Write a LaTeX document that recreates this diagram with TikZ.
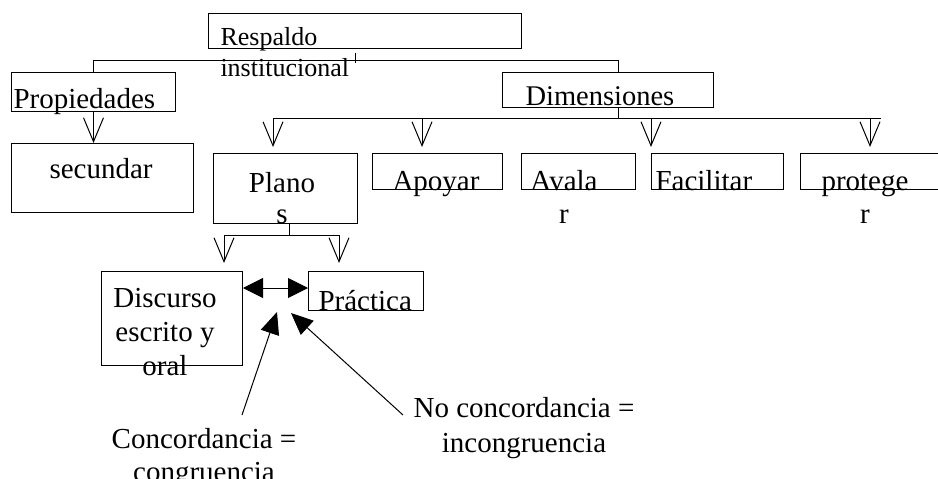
\documentclass[tikz,border=0pt]{standalone}
\usepackage{fontspec}
\setmainfont{Liberation Serif}
\usetikzlibrary{arrows.meta, positioning}
\tikzset{
  every picture/.style={line width=1pt, x=1pt, y=-1pt},
  box/.style={draw, rectangle, anchor=north west, inner sep=0pt},
  txt/.style={font=\fontsize{29}{33}\selectfont, inner sep=0pt, anchor=base west},
  vee/.style={-{Straight Barb[length=24pt, width=20pt]}},
  tri/.style={-{Triangle[length=22pt, width=19pt]}},
}

\begin{document}
\begin{tikzpicture}
\useasboundingbox (0,0) rectangle (938,479);
% Respaldo institucional
\node[box, minimum width=313pt, minimum height=35pt] (resp) at (208,13) {};
\node[txt, font=\fontsize{26}{31}\selectfont, align=left] (resptxt) at (220,76) {Respaldo\\institucional};
\coordinate (tick) at (355,53);
\draw (tick) -- ++(0,10);
% Propiedades / Dimensiones
\node[box, minimum width=164pt, minimum height=39pt] (prop) at (11,72) {};
\node[txt] (proptxt) at (13,108) {Propiedades};
\node[box, minimum width=211pt, minimum height=35pt] (dim) at (502,72) {};
\node[txt, font=\fontsize{28.5}{33}\selectfont] (dimtxt) at (525,105) {Dimensiones};
\coordinate (busR) at (618,60);
\draw (prop.north) |- (busR) -- (busR |- dim.north);
% secundar
\node[box, minimum width=182pt, minimum height=69pt] (sec) at (11,143) {};
\node[txt] (sectxt) at (49,178) {secundar};
\draw[vee] (prop.south) -- (prop.south |- sec.north);
% dimensiones
\coordinate (dimdown) at (618,118);
\coordinate (busL2) at (273,118);
\coordinate (busR2) at (881,118);
\draw (dim.south -| dimdown) -- (dimdown);
\draw (busL2) -- (busR2);
\foreach \x in {273,422,651,870} \draw[vee] (\x,118) -- ++(0,29);
\node[box, minimum width=144pt, minimum height=70pt] (plan) at (213,153) {};
\node[txt, font=\fontsize{29}{31}\selectfont, align=center, anchor=base] (plantxt) at (282,223) {Plano\\s};
\node[box, minimum width=130pt, minimum height=36pt] (apo) at (372,153) {};
\node[txt] (apotxt) at (392,190) {Apoyar};
\node[box, minimum width=114pt, minimum height=36pt] (aval) at (521,153) {};
\node[txt, align=center, anchor=base] (avaltxt) at (564,223) {Avala\\r};
\node[box, minimum width=132pt, minimum height=36pt] (fac) at (651,153) {};
\node[txt] (factxt) at (655,190) {Facilitar};
\node[box, minimum width=145pt, minimum height=36pt] (prot) at (800,153) {};
\node[txt, align=center, anchor=base] (prottxt) at (865,223) {protege\\r};
% Planos
\coordinate (plandown) at (289,235);
\coordinate (planL) at (224,235);
\coordinate (planR) at (339,235);
\draw (plan.south -| plandown) -- (plandown);
\draw (planL) -- (planR);
\node[box, minimum width=141pt, minimum height=94pt] (disc) at (101,271) {};
\node[txt, font=\fontsize{29}{34}\selectfont, align=center, anchor=base] (disctxt) at (165,375) {Discurso\\escrito y\\oral};
\node[box, minimum width=115pt, minimum height=39pt] (prac) at (308,271) {};
\node[txt] (practxt) at (318,310) {Práctica};
\draw[vee] (planL) -- (planL |- 0,263);
\draw[vee] (planR) -- (planR |- 0,263);
\draw[{Triangle[length=20pt, width=20pt]}-{Triangle[length=20pt, width=20pt]}] (disc.east |- 0,288) -- (prac.west |- 0,288);
% concordancia
\node[txt, align=center, anchor=base] (conc) at (204,481) {Concordancia =\\congruencia};
\node[txt, font=\fontsize{29}{35}\selectfont, align=center, anchor=base] (noconc) at (524,452) {No concordancia =\\incongruencia};
\coordinate (concA) at (242,415);
\coordinate (noconcA) at (403,415);
\draw[tri] (concA) -- (277,312);
\draw[tri] (noconcA) -- (291,313);
\end{tikzpicture}
\end{document}
